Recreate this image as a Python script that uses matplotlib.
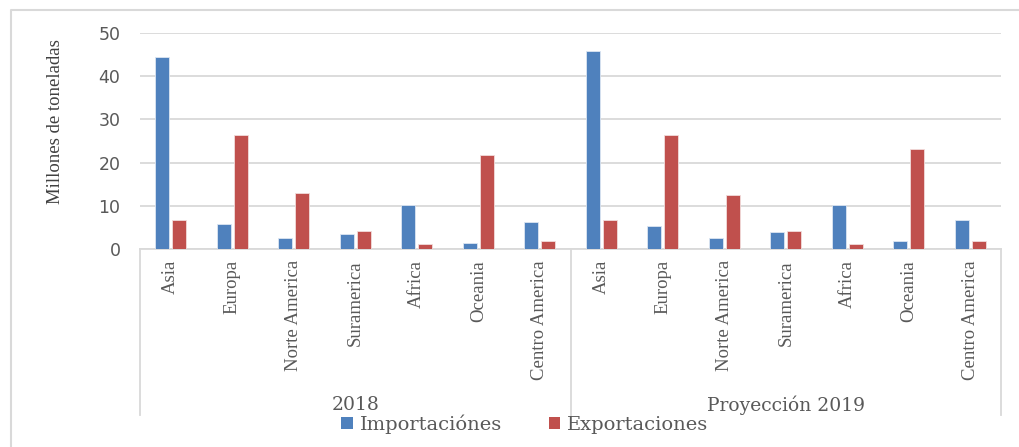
import matplotlib
matplotlib.use("Agg")
import matplotlib.pyplot as plt
from matplotlib.lines import Line2D
from matplotlib.patches import Patch
import matplotlib.transforms as mtransforms
import numpy as np

regions = ["Asia", "Europa", "Norte America", "Suramerica", "Africa", "Oceania", "Centro America"]
groups = ["2018", "Proyección 2019"]
importaciones_2018 = [44.5, 5.9, 2.5, 3.5, 10.1, 1.5, 6.3]
exportaciones_2018 = [6.6, 26.3, 12.9, 4.2, 1.1, 21.8, 1.8]
importaciones_2019 = [45.9, 5.3, 2.5, 3.9, 10.1, 1.85, 6.6]
exportaciones_2019 = [6.6, 26.3, 12.5, 4.2, 1.1, 23.1, 1.8]
series_names = ["Importaciónes", "Exportaciones"]
yticks = [0, 10, 20, 30, 40, 50]

blue = "#4F81BD"
red = "#C0504D"
grey_line = "#D9D9D9"
text_grey = "#595959"

W, H = 1019, 447
fig = plt.figure(figsize=(W / 100, H / 100), dpi=100)
fig.patch.set_facecolor("white")

# outer chart frame (top and left edges visible)
fig.lines.append(Line2D([11 / W, 11 / W, 1.0], [0.0, 1 - 10 / H, 1 - 10 / H],
                        transform=fig.transFigure, color="#D9D9D9", linewidth=1.5))

left, right, bottom, top = 140 / W, 1001 / W, 1 - 249 / H, 1 - 33 / H
ax = fig.add_axes([left, bottom, right - left, top - bottom])

imp = importaciones_2018 + importaciones_2019
exp = exportaciones_2018 + exportaciones_2019
labels = regions + regions
x = np.arange(len(labels))
w = 0.225
off = 0.14
ax.bar(x - off, imp, width=w, color=blue, edgecolor="#DCE6F2", linewidth=0.6, zorder=3)
ax.bar(x + off, exp, width=w, color=red, edgecolor="#F2DCDB", linewidth=0.6, zorder=3)

ax.set_xlim(-0.5, len(labels) - 0.5)
ax.set_ylim(0, 50)
ax.set_yticks(yticks)
ax.yaxis.grid(True, color=grey_line, linewidth=1.3, zorder=0)
ax.set_axisbelow(True)
for s in ["top", "right", "left"]:
    ax.spines[s].set_visible(False)
ax.spines["bottom"].set_color(grey_line)
ax.spines["bottom"].set_linewidth(1.3)
ax.tick_params(axis="y", length=0, pad=14, labelsize=12.5, labelcolor=text_grey)
for t in ax.get_yticklabels():
    t.set_family("DejaVu Sans")

ax.set_xticks(x)
ax.set_xticklabels(labels, rotation=90, family="Liberation Serif", fontsize=13.5,
                   color=text_grey, va="top", ha="center")
ax.tick_params(axis="x", length=0, pad=8)

ax.set_ylabel("Millones de toneladas", family="Liberation Serif", fontsize=13.5,
              color="#404040")
ax.yaxis.set_label_coords(-0.088, 0.59)

# group separators
trans = mtransforms.blended_transform_factory(ax.transData, ax.transAxes)
ybot = -(415 - 249) / (249 - 33)
for xs in [-0.5, 6.5, 13.5]:
    ax.plot([xs, xs], [0, ybot], transform=trans, color=grey_line, linewidth=1.3,
            clip_on=False)

ygrp = -(405 - 249) / (249 - 33)
for i, g in enumerate(groups):
    ax.text(3 + 7 * i, ygrp, g, transform=trans, ha="center", va="center",
            family="DejaVu Serif", fontsize=13.5, color=text_grey)

handles = [Patch(facecolor=blue, edgecolor="none"), Patch(facecolor=red, edgecolor="none")]
leg = fig.legend(handles, series_names, loc="center", bbox_to_anchor=(0.515, 1 - 424 / H),
                 ncol=2, frameon=False, handlelength=0.6, handleheight=0.6,
                 handletextpad=0.35, columnspacing=2.4,
                 prop={"family": "DejaVu Serif", "size": 14})
for t in leg.get_texts():
    t.set_color(text_grey)

fig.savefig("out.png", dpi=100)
